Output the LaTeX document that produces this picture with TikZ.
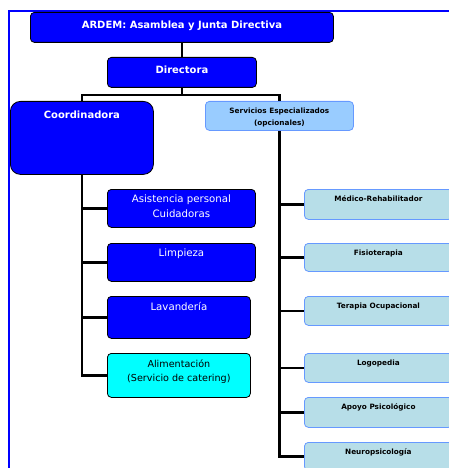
\documentclass[tikz,border=0pt]{standalone}
\usepackage{fontspec}
\setmainfont{DejaVu Sans}
\definecolor{dblue}{RGB}{0,0,255}
\definecolor{servfill}{RGB}{153,204,255}
\definecolor{servline}{RGB}{102,153,255}
\definecolor{rfill}{RGB}{183,222,232}
\definecolor{acyan}{RGB}{0,255,255}
\tikzset{
  box/.style={draw=black, line width=0.8pt, rounded corners=4pt, anchor=north west, inner sep=0pt},
  bluebox/.style={box, fill=dblue},
  servbox/.style={box, draw=servline, fill=servfill},
  rbox/.style={box, draw=servline, fill=rfill},
  cyanbox/.style={box, fill=acyan},
  conn/.style={draw=black, line width=2.2pt},
  wbold/.style={text=white, font=\bfseries\fontsize{10}{12}\selectfont, align=center, anchor=north},
  wnorm/.style={text=white, font=\fontsize{10.2}{15}\selectfont, align=center, anchor=north},
  ksmall/.style={text=black, font=\bfseries\fontsize{7.3}{12}\selectfont, align=center, anchor=north},
}
\begin{document}
\begin{tikzpicture}[x=1pt,y=1pt]
\useasboundingbox (0,0) rectangle (449,-468);
\clip (0,0) rectangle (449,-468);
% frame
\draw[dblue, line width=2pt] (9,-470) -- (9,-11) -- (452,-11);
% boxes
\node[bluebox, minimum width=303pt, minimum height=30pt] (ardem) at (30,-12) {};
\node[bluebox, minimum width=149pt, minimum height=30pt] (dir) at (107,-57) {};
\node[bluebox, rounded corners=10pt, minimum width=143pt, minimum height=73pt] (coord) at (10,-101) {};
\node[servbox, minimum width=148pt, minimum height=29pt] (serv) at (205,-101) {};
\node[bluebox, minimum width=148pt, minimum height=38pt] (asis) at (107,-189) {};
\node[bluebox, minimum width=148pt, minimum height=38pt] (limp) at (107,-243) {};
\node[bluebox, minimum width=143pt, minimum height=42pt] (lav) at (107,-296) {};
\node[cyanbox, minimum width=143pt, minimum height=44pt] (alim) at (107,-353) {};
\node[rbox, minimum width=148pt, minimum height=30pt] (med) at (304,-189) {};
\node[rbox, minimum width=148pt, minimum height=28pt] (fis) at (304,-243) {};
\node[rbox, minimum width=148pt, minimum height=29pt] (ter) at (304,-296) {};
\node[rbox, minimum width=148pt, minimum height=29pt] (log) at (304,-353) {};
\node[rbox, minimum width=148pt, minimum height=30pt] (apo) at (304,-397) {};
\node[rbox, minimum width=148pt, minimum height=28pt] (neu) at (304,-442) {};
% texts
\node[wbold] (tardem) at ([yshift=-5pt]ardem.north) {ARDEM: Asamblea y Junta Directiva};
\node[wbold] (tdir) at ([yshift=-5pt]dir.north) {Directora};
\node[wbold] (tcoord) at ([yshift=-6pt]coord.north) {Coordinadora};
\node[ksmall] (tserv) at ([yshift=-3pt]serv.north) {Servicios Especializados\\(opcionales)};
\node[wnorm] (tasis) at ([yshift=-2.5pt]asis.north) {Asistencia personal\\Cuidadoras};
\node[wnorm] (tlimp) at ([yshift=-2.5pt]limp.north) {Limpieza};
\node[wnorm] (tlav) at ([yshift=-2.5pt]lav.north) {Lavandería};
\node[wnorm, text=black, font=\fontsize{9.6}{14}\selectfont] (talim) at ([yshift=-3pt]alim.north) {Alimentación\\(Servicio de catering)};
\node[ksmall] (tmed) at ([yshift=-3.5pt]med.north) {Médico-Rehabilitador};
\node[ksmall] (tfis) at ([yshift=-3.5pt]fis.north) {Fisioterapia};
\node[ksmall] (tter) at ([yshift=-3.5pt]ter.north) {Terapia Ocupacional};
\node[ksmall] (tlog) at ([yshift=-3.5pt]log.north) {Logopedia};
\node[ksmall] (tapo) at ([yshift=-3.5pt]apo.north) {Apoyo Psicológico};
\node[ksmall] (tneu) at ([yshift=-3.5pt]neu.north) {Neuropsicología};
% connectors
\coordinate (split) at ([yshift=-7pt]dir.south);
\draw[conn] (ardem.south) -- (dir.north);
\draw[conn] (dir.south) -- (split) -| (coord.north);
\draw[conn] (split) -| (serv.north);
\draw[conn] (coord.south) |- (alim.west);
\draw[conn] (coord.south |- asis.west) -- (asis.west);
\draw[conn] (coord.south |- limp.west) -- (limp.west);
\draw[conn] (coord.south |- lav.west) -- (lav.west);
\draw[conn] (serv.south) |- (neu.west);
\draw[conn] (serv.south |- med.west) -- (med.west);
\draw[conn] (serv.south |- fis.west) -- (fis.west);
\draw[conn] (serv.south |- ter.west) -- (ter.west);
\draw[conn] (serv.south |- log.west) -- (log.west);
\draw[conn] (serv.south |- apo.west) -- (apo.west);
\end{tikzpicture}
\end{document}
